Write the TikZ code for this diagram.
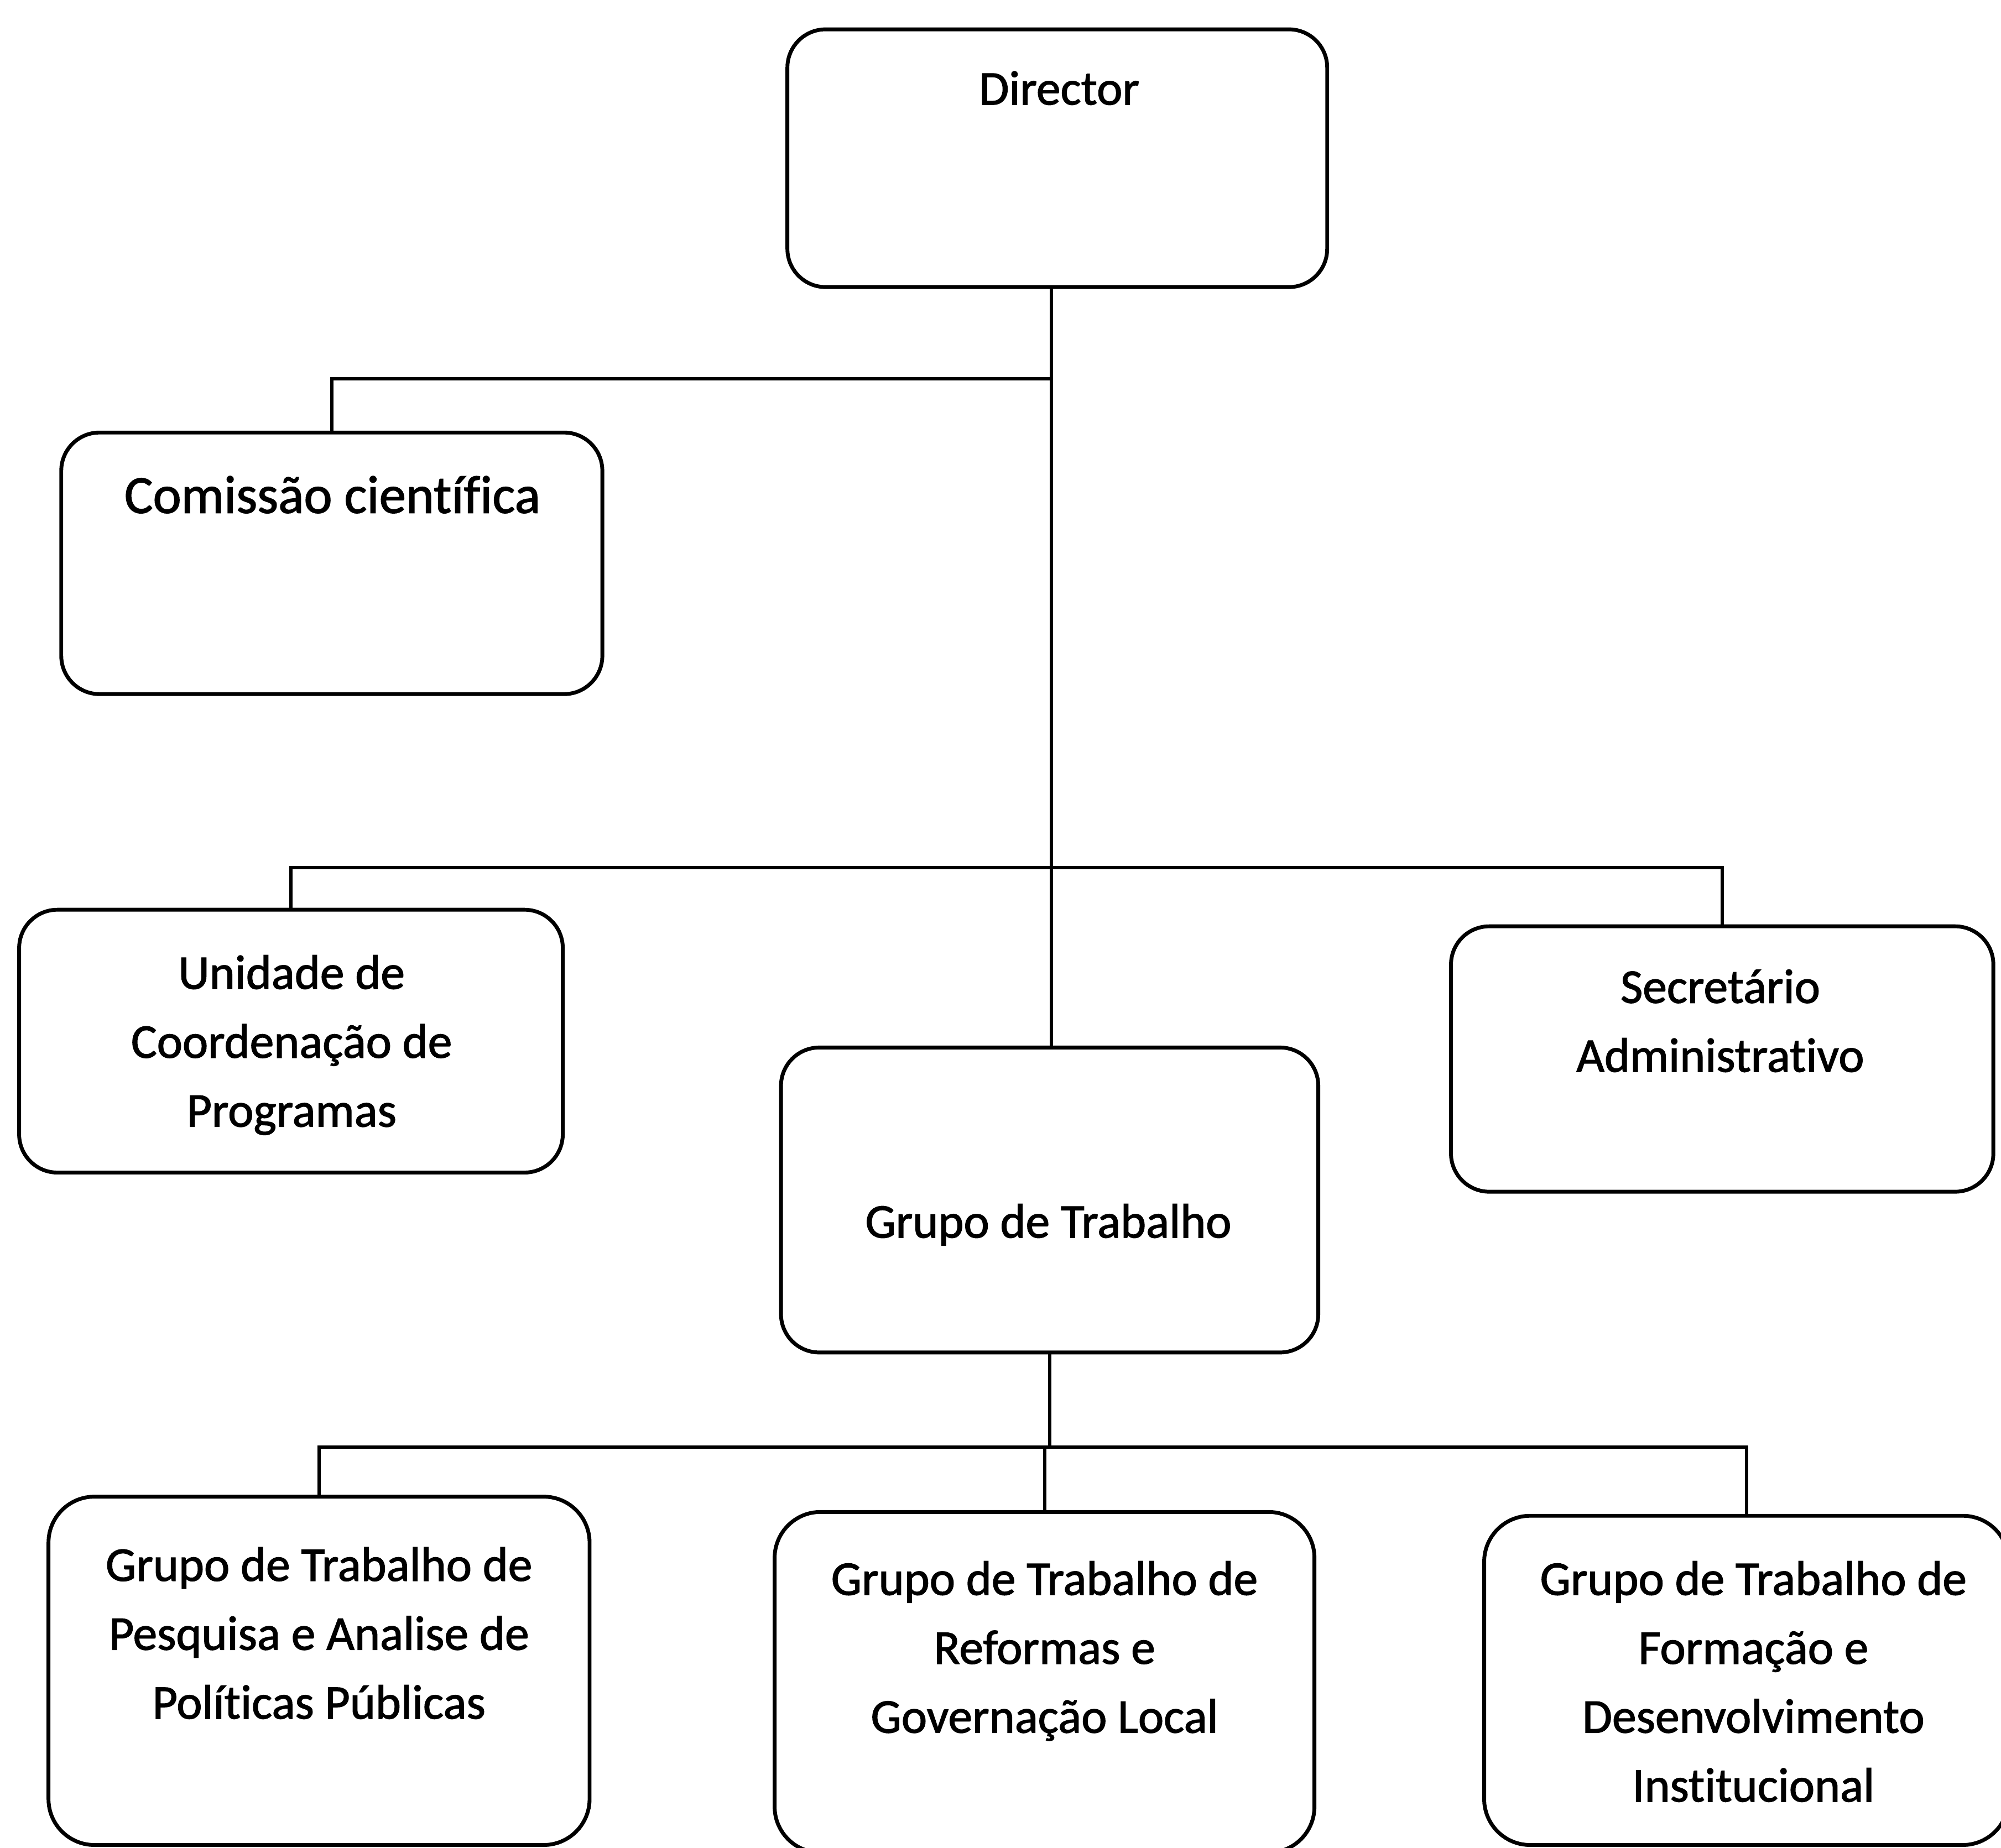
\documentclass[tikz,border=0pt]{standalone}
\usepackage{fontspec}
\setmainfont{Carlito}[Ligatures={NoCommon}, FakeBold=1.5]
\usetikzlibrary{calc}
\newcommand\lblfont{\fontsize{38}{54}\selectfont}
\newcommand\bigfont{\fontsize{42}{54}\selectfont}
\begin{document}
\begin{tikzpicture}[x=1pt,y=-1pt,
  box/.style={draw, line width=3pt, rounded corners=30pt, inner sep=0pt, outer sep=0pt},
  lbl/.style={font=\lblfont, align=center, inner sep=0pt, outer sep=0pt, anchor=north},
  conn/.style={line width=2.6pt}]
\useasboundingbox (0,0) rectangle (1568,1448);
% boxes
\node[box, minimum width=423pt, minimum height=202pt] (dir) at (828.5,124) {};
\node[box, minimum width=424pt, minimum height=205pt] (com) at (260,441.5) {};
\node[box, minimum width=426pt, minimum height=206pt] (uni) at (228,816) {};
\node[box, minimum width=421pt, minimum height=239pt] (gt) at (822.5,940.5) {};
\node[box, minimum width=425pt, minimum height=208pt] (sec) at (1349.5,830) {};
\node[box, minimum width=424pt, minimum height=273pt, rounded corners=36pt] (p1) at (250,1309.5) {};
\node[box, minimum width=423pt, minimum height=267pt, rounded corners=36pt] (p2) at (818.5,1318.5) {};
\node[box, minimum width=411pt, minimum height=258pt, rounded corners=36pt] (p3) at (1368.5,1317) {};
% labels
\node[lbl] (dirt) at (830,44.2) {\strut Director};
\node[lbl, font=\bigfont] (comt) at (260.5,364.2) {\strut Comissão científica};
\node[lbl] (unit) at (228.5,737.2) {\strut Unidade de\\Coordenação de\\Programas};
\node[lbl] (gtt) at (821.5,932.2) {\strut Grupo de Trabalho};
\node[lbl] (sect) at (1348,748.2) {\strut Secretário\\Administrativo};
\node[lbl] (p1t) at (250,1201.2) {\strut Grupo de Trabalho de\\Pesquisa e Analise de\\Políticas Públicas};
\node[lbl] (p2t) at (818.5,1212.2) {\strut Grupo de Trabalho de\\Reformas e\\Governação Local};
\node[lbl] (p3t) at (1374,1212.2) {\strut Grupo de Trabalho de\\Formação e\\Desenvolvimento\\Institucional};
% connectors
\coordinate (spine) at (824,297);
\draw[conn] (spine |- dir.south) -- (spine |- gt.north);
\draw[conn] (spine) -| (com.north);
\coordinate (bar) at (824,680);
\draw[conn] (uni.north) |- (bar) -| (sec.north);
\coordinate (bar2) at (822,1134);
\draw[conn] (gt.south) -- (gt.south |- bar2);
\draw[conn] (p1.north) |- (bar2) -| (p3.north);
\draw[conn] (p2.north) -- (p2.north |- bar2);
\end{tikzpicture}
\end{document}
